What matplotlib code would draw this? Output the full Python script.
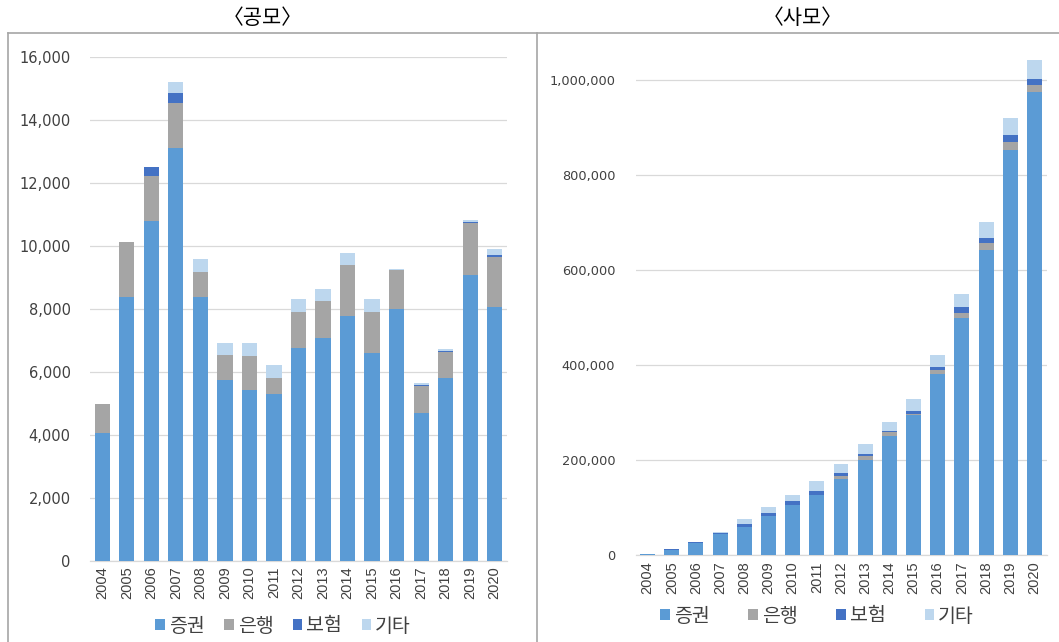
import matplotlib
matplotlib.use("Agg")
import matplotlib.pyplot as plt
from matplotlib.lines import Line2D
from matplotlib.ticker import FuncFormatter
import numpy as np

plt.rcParams['font.family'] = ['Noto Sans CJK KR', 'DejaVu Sans']

years = [str(y) for y in range(2004, 2021)]
series_names = ['증권', '은행', '보험', '기타']
colors = ['#5B9BD5', '#A5A5A5', '#4472C4', '#BDD7EE']

# 공모 (public offering)
pub_sec = [4050, 8370, 10790, 13120, 8370, 5750, 5440, 5300, 6770, 7070, 7790, 6590, 7990, 4690, 5800, 9080, 8050]
pub_bank = [930, 1750, 1430, 1430, 800, 800, 1080, 510, 1140, 1180, 1600, 1320, 1250, 870, 850, 1640, 1610]
pub_ins = [0, 0, 300, 300, 0, 0, 0, 0, 0, 0, 20, 0, 0, 40, 30, 30, 50]
pub_etc = [0, 0, 0, 360, 410, 370, 400, 400, 410, 400, 380, 410, 30, 60, 40, 70, 190]

# 사모 (private placement)
prv_sec = [2500, 11000, 26000, 44000, 60000, 82000, 105000, 126000, 161000, 201000, 251000, 294000, 382000, 500000, 642000, 853000, 975000]
prv_bank = [0, 0, 0, 0, 0, 0, 0, 0, 6000, 7500, 7000, 2000, 7000, 10000, 14000, 17000, 14500]
prv_ins = [0, 1500, 2000, 3000, 6000, 7000, 8000, 9000, 6000, 4500, 4000, 8000, 7000, 11500, 11000, 14000, 12500]
prv_etc = [500, 0, 0, 2000, 9000, 12000, 14000, 20000, 18000, 21000, 18000, 24000, 25000, 28000, 34000, 35000, 40000]

W, H = 1059, 642
fig = plt.figure(figsize=(W / 100, H / 100), dpi=100)


def fx(px):
    return px / W


def fy(py):
    return 1 - py / H


def draw_panel(rect, series, ylim, yticks, ylabel_size, ypad, xpad):
    ax = fig.add_axes(rect)
    x = np.arange(len(years))
    bottom = np.zeros(len(years))
    handles = []
    for vals, name, c in zip(series, series_names, colors):
        v = np.array(vals, dtype=float)
        h = ax.bar(x, v, width=0.62, bottom=bottom, color=c, label=name, zorder=3)
        bottom += v
        handles.append(h)
    ax.set_xlim(-0.5, len(years) - 0.5)
    ax.set_ylim(*ylim)
    ax.set_yticks(yticks)
    ax.yaxis.set_major_formatter(FuncFormatter(lambda v, p: f"{int(v):,}"))
    ax.set_xticks(x)
    ax.set_xticklabels(years, rotation=90)
    ax.tick_params(axis='y', length=0, pad=ypad, labelsize=ylabel_size,
                   labelcolor='#404040', labelfontfamily='DejaVu Sans')
    ax.tick_params(axis='x', length=0, pad=xpad, labelsize=10.5,
                   labelcolor='#404040', labelfontfamily='Liberation Sans')
    ax.grid(axis='y', color='#D9D9D9', linewidth=0.9, zorder=0)
    for s in ['top', 'right', 'left']:
        ax.spines[s].set_visible(False)
    ax.spines['bottom'].set_color('#D9D9D9')
    ax.spines['bottom'].set_linewidth(0.9)
    ax.set_axisbelow(True)
    return ax, handles


axL, hL = draw_panel([fx(90), fy(561), fx(507) - fx(90), fy(57) - fy(561)],
                     [pub_sec, pub_bank, pub_ins, pub_etc],
                     (0, 16000), np.arange(0, 16001, 2000), 10.5, 14, 3.6)
axR, hR = draw_panel([fx(635.5), fy(555), fx(1046.5) - fx(635.5), fy(32.5) - fy(555)],
                     [prv_sec, prv_bank, prv_ins, prv_etc],
                     (0, 1100000), np.arange(0, 1000001, 200000), 9.3, 14.5, 4.8)

# legends
fig.legend(hL, series_names, loc='center', bbox_to_anchor=(fx(283), fy(626)), ncol=4,
           frameon=False, fontsize=14, handlelength=0.5, handleheight=0.5,
           handletextpad=0.2, columnspacing=1.0, labelcolor='#404040')
fig.legend(hR, series_names, loc='center', bbox_to_anchor=(fx(817), fy(616)), ncol=4,
           frameon=False, fontsize=14, handlelength=0.5, handleheight=0.5,
           handletextpad=0.2, columnspacing=2.0, labelcolor='#404040')

# panel titles
fig.text(fx(263), fy(18), '〈공모〉', ha='center', va='center', fontsize=15, color='black')
fig.text(fx(803), fy(18), '〈사모〉', ha='center', va='center', fontsize=15, color='black')

# panel frames
frame_kw = dict(color='#A6A6A6', linewidth=1.2, transform=fig.transFigure)
fig.add_artist(Line2D([fx(8), 1.0], [fy(33), fy(33)], **frame_kw))
fig.add_artist(Line2D([fx(8), fx(8)], [fy(33), 0.0], **frame_kw))
fig.add_artist(Line2D([fx(537), fx(537)], [fy(33), 0.0], **frame_kw))

fig.savefig('out.png', dpi=100)
